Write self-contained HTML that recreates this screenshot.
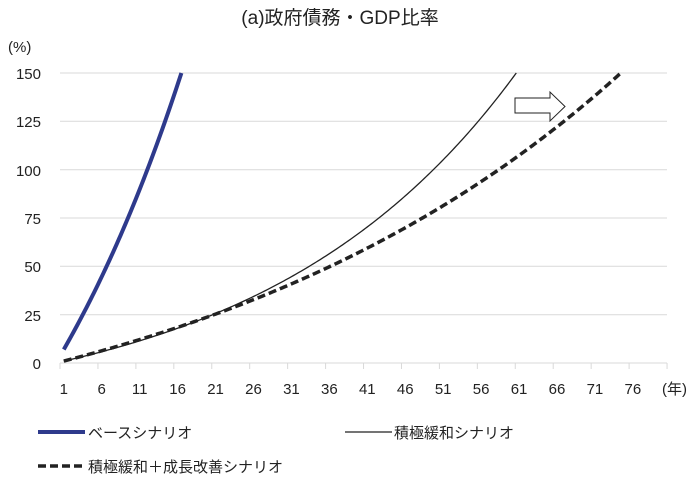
<!DOCTYPE html>
<html><head><meta charset="utf-8"><style>
body{margin:0;background:#fff;}
svg text{font-family:"Liberation Sans","Noto Sans CJK JP",sans-serif;fill:#222;}
</style></head><body>
<svg id="s" width="695" height="477" viewBox="0 0 695 477" xmlns="http://www.w3.org/2000/svg">
<text x="340" y="24" font-size="19" text-anchor="middle">(a)政府債務・GDP比率</text>
<text x="8" y="52" font-size="15">(%)</text>
<g stroke="#d9d9d9" stroke-width="1">
<line x1="60" x2="667" y1="73" y2="73"/><line x1="60" x2="667" y1="121.3" y2="121.3"/>
<line x1="60" x2="667" y1="169.7" y2="169.7"/><line x1="60" x2="667" y1="218" y2="218"/>
<line x1="60" x2="667" y1="266.3" y2="266.3"/><line x1="60" x2="667" y1="314.7" y2="314.7"/>
</g>
<g id="xt" stroke="#d9d9d9"><line x1="60" x2="667" y1="363" y2="363"/></g>
<g font-size="15" text-anchor="end">
<text x="41" y="79">150</text><text x="41" y="127">125</text><text x="41" y="176">100</text>
<text x="41" y="224">75</text><text x="41" y="272">50</text><text x="41" y="321">25</text><text x="41" y="369">0</text>
</g>
<g id="xl" font-size="15" text-anchor="middle"></g>
<text x="662" y="394" font-size="15">(年)</text>
<g id="curves"></g>
<path d="M515 98 H550 V92 L565 106.5 L550 121 V113 H515 Z" fill="#fff" stroke="#222" stroke-width="1"/>
<line x1="38" y1="432" x2="85" y2="432" stroke="#2e3a8c" stroke-width="4"/>
<text x="88" y="438" font-size="15">ベースシナリオ</text>
<line x1="345" y1="432" x2="392" y2="432" stroke="#222" stroke-width="1.3"/>
<text x="394" y="438" font-size="15">積極緩和シナリオ</text>
<line x1="38" y1="466" x2="85" y2="466" stroke="#222" stroke-width="3.5" stroke-dasharray="8,4"/>
<text x="88" y="472" font-size="15">積極緩和＋成長改善シナリオ</text>
</svg>
<script>
var ns="http://www.w3.org/2000/svg";
function X(t){return 60+(t-0.5)*7.5875;}
function Y(v){return 363-v*1.9333;}
var xt=document.getElementById('xt'),xl=document.getElementById('xl');
for(var i=0;i<=16;i++){var x=60+i*37.94;var l=document.createElementNS(ns,'line');l.setAttribute('x1',x);l.setAttribute('x2',x);l.setAttribute('y1',363);l.setAttribute('y2',369);xt.appendChild(l);
if(i<16){var t=document.createElementNS(ns,'text');t.setAttribute('x',X(1+5*i));t.setAttribute('y',394);t.textContent=1+5*i;xl.appendChild(t);}}
function poly(f,maxT,attrs){var p=[];for(var t=1;t<=maxT;t+=0.25){var v=f(t);if(v>150){var tt=t-0.25;while(f(tt)<150)tt+=0.01;p.push(X(tt)+','+Y(150));break;}p.push(X(t)+','+Y(v));}
var e=document.createElementNS(ns,'polyline');e.setAttribute('points',p.join(' '));e.setAttribute('fill','none');for(var k in attrs)e.setAttribute(k,attrs[k]);document.getElementById('curves').appendChild(e);}
poly(function(t){return 7+188*(Math.exp(0.0365*(t-1))-1);},30,{stroke:'#2e3a8c','stroke-width':4});
poly(function(t){return 1+29.9*(Math.exp(0.03*(t-1))-1);},80,{stroke:'#222','stroke-width':1.3});
poly(function(t){return 1+60*(Math.exp(0.017*(t-1))-1);},80,{stroke:'#222','stroke-width':3.5,'stroke-dasharray':'8,4'});
</script>
</body></html>
